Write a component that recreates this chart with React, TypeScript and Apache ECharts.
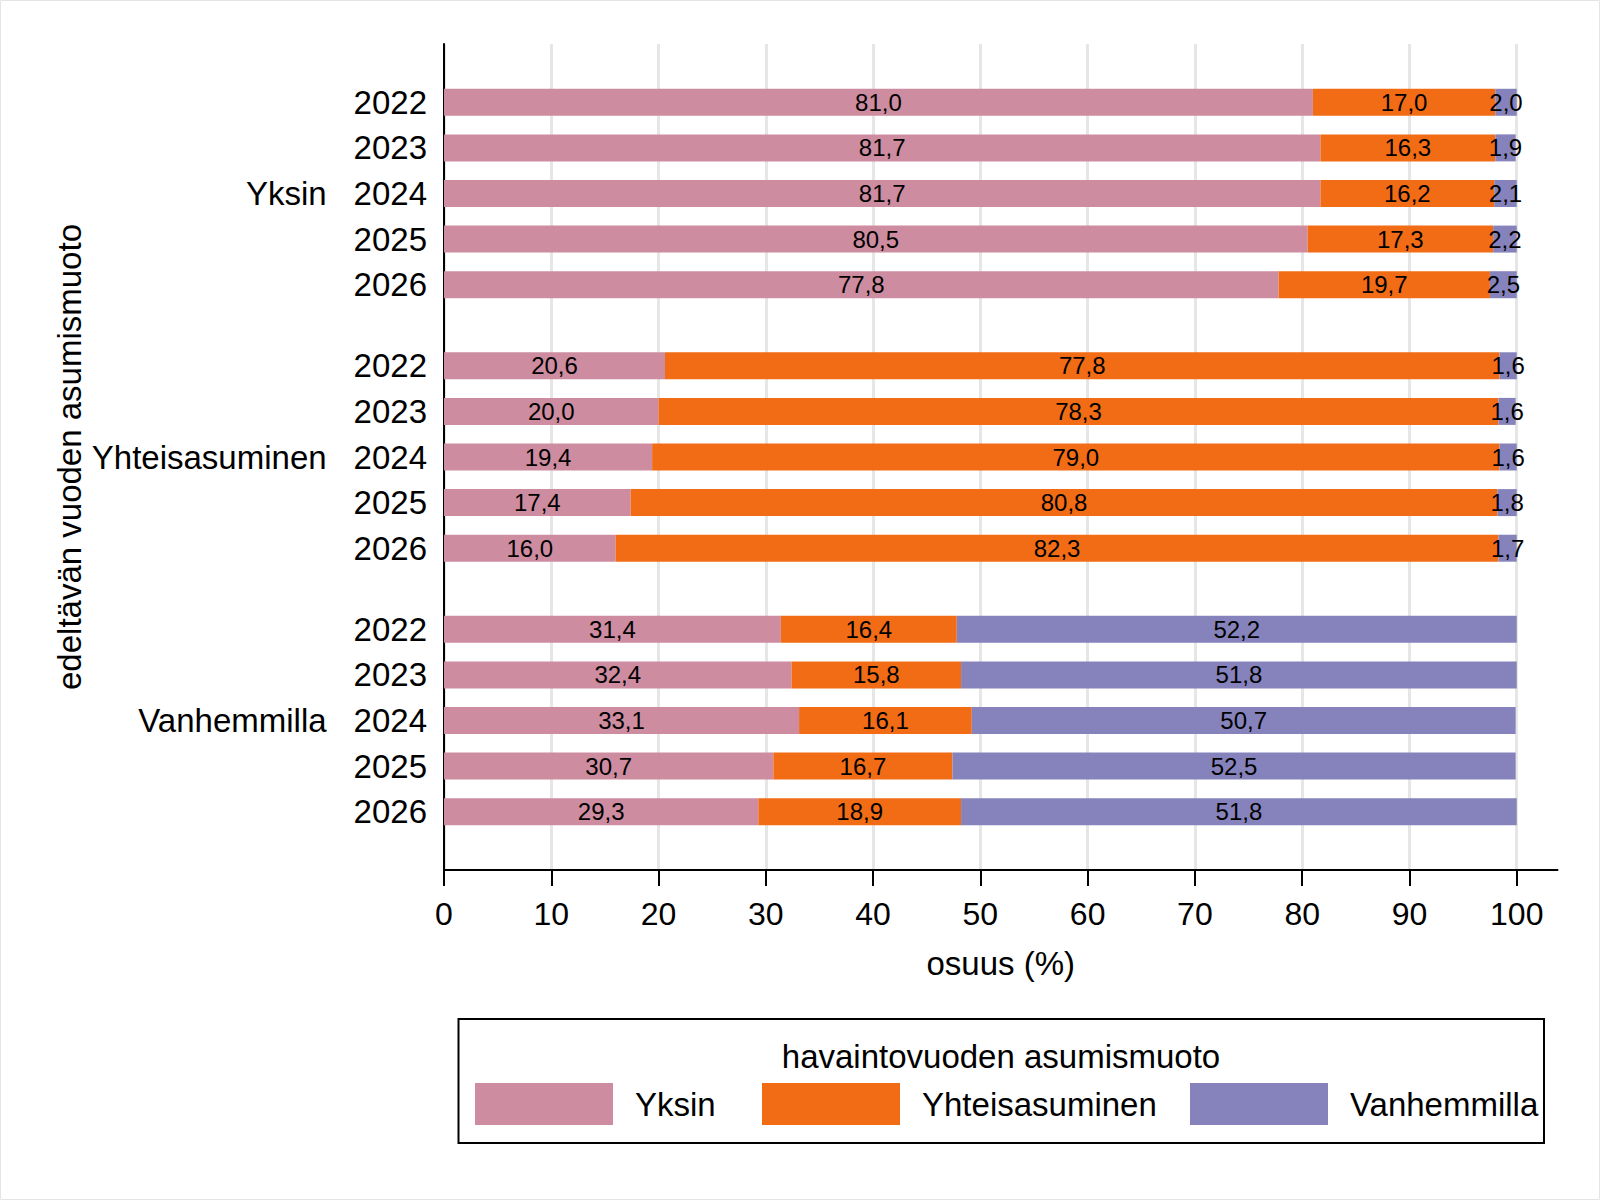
import React, { useEffect, useRef } from 'react';
import * as echarts from 'echarts';

// Previous-year living arrangement (row groups) and observation years
const groups = ['Yksin', 'Yhteisasuminen', 'Vanhemmilla'];
const years = ['2022', '2023', '2024', '2025', '2026'];

// Observation-year living arrangement (stacked series)
const seriesNames = ['Yksin', 'Yhteisasuminen', 'Vanhemmilla'];

// Shares (%) per group, one value per year
const yksinShare = [
  [81.0, 81.7, 81.7, 80.5, 77.8],
  [20.6, 20.0, 19.4, 17.4, 16.0],
  [31.4, 32.4, 33.1, 30.7, 29.3],
];
const yhteisasuminenShare = [
  [17.0, 16.3, 16.2, 17.3, 19.7],
  [77.8, 78.3, 79.0, 80.8, 82.3],
  [16.4, 15.8, 16.1, 16.7, 18.9],
];
const vanhemmillaShare = [
  [2.0, 1.9, 2.1, 2.2, 2.5],
  [1.6, 1.6, 1.6, 1.8, 1.7],
  [52.2, 51.8, 50.7, 52.5, 51.8],
];

const xTicks = [0, 10, 20, 30, 40, 50, 60, 70, 80, 90, 100];

const seriesShares = [yksinShare, yhteisasuminenShare, vanhemmillaShare];
const colors = ['#CE8CA0', '#F26C15', '#8683BC'];
const FONT = '"Liberation Sans", Arial, Helvetica, sans-serif';
const BIG = 33;

// Category slots: one bar every ROW_STEP slots, wider gap between groups
const EDGE_SLOTS = 11;
const ROW_STEP = 9;
const GROUP_STEP = 16;

type Row = { g: number; y: number } | null;
const rows: Row[] = [];
for (let k = 0; k < EDGE_SLOTS; k++) rows.push(null);
groups.forEach((_, gi) => {
  if (gi > 0) for (let k = 0; k < GROUP_STEP - 1; k++) rows.push(null);
  years.forEach((__, yi) => {
    if (yi > 0) for (let k = 0; k < ROW_STEP - 1; k++) rows.push(null);
    rows.push({ g: gi, y: yi });
  });
});
for (let k = 0; k < EDGE_SLOTS; k++) rows.push(null);

const categoryNames = rows.map((r, i) => (r ? `${groups[r.g]} ${years[r.y]}` : `_${i}`));

const fmt = (v: number) => v.toFixed(1).replace('.', ',');

export default function App() {
  const ref = useRef<HTMLDivElement>(null);

  useEffect(() => {
    if (!ref.current) return;
    const chart = echarts.init(ref.current, undefined, { renderer: 'svg' });

    const series = seriesNames.map((name, si) => ({
      name,
      type: 'bar',
      stack: 'total',
      barWidth: 27,
      itemStyle: { color: colors[si] },
      label: {
        show: true,
        position: 'inside',
        color: '#000',
        fontSize: 24,
        fontFamily: FONT,
        formatter: (p: any) => fmt(Number(p.value)),
      },
      data: rows.map((r) => (r ? seriesShares[si][r.g][r.y] : '-')),
    }));

    const legendLeft = [475, 762, 1190];

    chart.setOption({
      animation: false,
      backgroundColor: '#fff',
      textStyle: { fontFamily: FONT },
      grid: { left: 444, right: 42.5, top: 44, bottom: 330, containLabel: false },
      xAxis: {
        type: 'value',
        min: 0,
        max: 103.8,
        interval: 10,
        name: 'osuus (%)',
        nameLocation: 'middle',
        nameGap: 77,
        nameMoveOverlap: false,
        nameTextStyle: { fontSize: BIG, color: '#000', fontFamily: FONT },
        axisLine: { show: true, lineStyle: { color: '#000', width: 2 } },
        axisTick: { show: true, length: 16, lineStyle: { color: '#000', width: 2 }, customValues: xTicks },
        axisLabel: { fontSize: 32, color: '#000', margin: 28, fontFamily: FONT, customValues: xTicks },
        splitLine: { show: true, lineStyle: { color: '#e6e6e6', width: 3 } },
      },
      yAxis: {
        type: 'category',
        inverse: true,
        data: categoryNames,
        name: 'edeltävän vuoden asumismuoto',
        nameLocation: 'middle',
        nameRotate: 90,
        nameGap: 358,
        nameMoveOverlap: false,
        nameTextStyle: { fontSize: BIG, color: '#000', fontFamily: FONT },
        axisLine: { show: true, onZero: false, lineStyle: { color: '#000', width: 2 } },
        axisTick: { show: false },
        splitLine: { show: false },
        axisLabel: {
          interval: 0,
          margin: 17,
          color: '#000',
          fontSize: BIG,
          fontFamily: FONT,
          formatter: (_v: string, idx: number) => {
            const r = rows[idx];
            if (!r) return '';
            return r.y === 2 ? `{g|${groups[r.g]}}{y|${years[r.y]}}` : `{y|${years[r.y]}}`;
          },
          rich: {
            g: { fontSize: BIG, color: '#000', fontFamily: FONT, padding: [0, 27, 0, 0] },
            y: { fontSize: BIG, color: '#000', fontFamily: FONT },
          },
        },
      },
      legend: seriesNames.map((n, i) => ({
        data: [n],
        left: legendLeft[i],
        top: 1083,
        itemWidth: 138,
        itemHeight: 42,
        itemGap: 0,
        padding: 0,
        icon: 'rect',
        selectedMode: false,
        textStyle: { fontSize: BIG, color: '#000', fontFamily: FONT, padding: [0, 0, 0, 17] },
      })),
      graphic: [
        {
          type: 'rect',
          shape: { x: 0.5, y: 0.5, width: 1599, height: 1199 },
          style: { fill: 'none', stroke: '#e4e4e4', lineWidth: 1 },
          silent: true,
        },
        {
          type: 'rect',
          shape: { x: 458.5, y: 1019, width: 1085.5, height: 124 },
          style: { fill: 'none', stroke: '#000', lineWidth: 2 },
          silent: true,
        },
        {
          type: 'text',
          x: 1001,
          y: 1056,
          style: {
            text: 'havaintovuoden asumismuoto',
            fontSize: BIG,
            fontFamily: FONT,
            fill: '#000',
            align: 'center',
            verticalAlign: 'middle',
            textAlign: 'center',
            textVerticalAlign: 'middle',
          },
          silent: true,
        },
      ],
      series,
    });

    return () => chart.dispose();
  }, []);

  return (
    <div
      ref={ref}
      style={{ position: 'absolute', left: 0, top: 0, width: 1600, height: 1200, background: '#fff' }}
    />
  );
}
